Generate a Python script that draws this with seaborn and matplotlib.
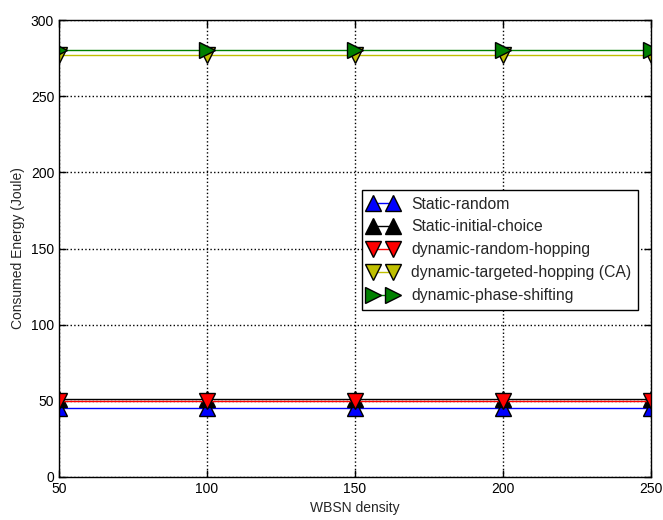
import matplotlib
matplotlib.use("Agg")
import matplotlib.pyplot as plt
import seaborn as sns
import pandas as pd

density = [50, 100, 150, 200, 250]
static_random = [45.5, 45.5, 45.5, 45.5, 45.5]
static_initial = [51.5, 51.5, 51.5, 51.5, 51.5]
dyn_random_hop = [50.0, 50.0, 50.0, 50.0, 50.0]
dyn_targeted_hop = [277.0, 277.0, 277.0, 277.0, 277.0]
dyn_phase_shift = [280.0, 280.0, 280.0, 280.0, 280.0]

series_names = ["Static-random", "Static-initial-choice", "dynamic-random-hopping",
                "dynamic-targeted-hopping (CA)", "dynamic-phase-shifting"]
series_values = [static_random, static_initial, dyn_random_hop, dyn_targeted_hop, dyn_phase_shift]
colors = ["#0000ff", "#000000", "#ff0000", "#bfbf00", "#008000"]
markers = ["^", "^", "v", "v", ">"]

sns.set_style("ticks")
plt.rcParams["font.family"] = ["Liberation Sans", "DejaVu Sans"]
plt.rcParams["xtick.direction"] = "in"
plt.rcParams["ytick.direction"] = "in"

fig = plt.figure(figsize=(6.63, 5.2), dpi=100)
ax = fig.add_axes([0.089, 0.0827, 0.893, 0.8788])

for name, vals, c, m in zip(series_names, series_values, colors, markers):
    df = pd.DataFrame({"x": density, "y": vals})
    sns.lineplot(data=df, x="x", y="y", ax=ax, color=c, marker=m, markersize=11,
                 markeredgecolor="black", markeredgewidth=1.0, linewidth=1.0,
                 label=name)

ax.set_xlim(50, 250)
ax.set_ylim(0, 300)
ax.set_xticks([50, 100, 150, 200, 250])
ax.set_yticks([0, 50, 100, 150, 200, 250, 300])
ax.grid(True, linestyle=":", color="black", linewidth=1.0)
ax.tick_params(axis="both", which="both", top=True, right=True, length=5,
               width=1, labelsize=10, colors="black")
for s in ax.spines.values():
    s.set_color("black")
    s.set_linewidth(1.0)
ax.set_xlabel("WBSN density", fontsize=10)
ax.set_ylabel("Consumed Energy (Joule)", fontsize=10)

leg = ax.legend(loc="upper left", bbox_to_anchor=(0.511, 0.629), numpoints=2,
                fontsize=11.3, frameon=True, fancybox=False, framealpha=1,
                edgecolor="black", handlelength=1.85, handletextpad=0.85,
                borderpad=0.45, borderaxespad=0, labelspacing=0.5)
leg.get_frame().set_linewidth(1.0)

fig.savefig("out.png", dpi=100)
